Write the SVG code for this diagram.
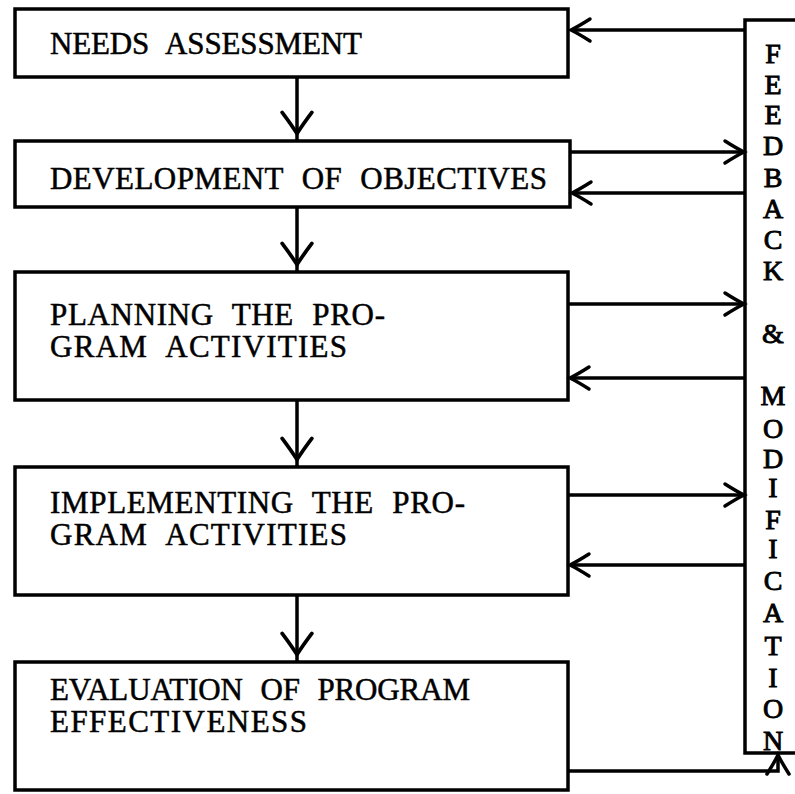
<svg xmlns="http://www.w3.org/2000/svg" width="795" height="794" viewBox="0 0 795 794">
  <style>
    .box { fill: none; stroke: #000; stroke-width: 3.5; stroke-linejoin: miter; }
    .lbl { font-family: "Liberation Serif", "DejaVu Serif", serif; font-size: 31px; word-spacing: 10px; fill: #000; stroke: #000; stroke-width: 0.5; }
    .side { font-family: "Liberation Serif", "DejaVu Serif", serif; font-size: 28px; fill: #000; stroke: #000; stroke-width: 0.9; text-anchor: middle; }
    .wire { fill: none; stroke: #000; stroke-width: 3.5; }
  </style>
  <defs>
    <!-- open V arrowhead, tip on the line end -->
    <marker id="arrow" markerUnits="userSpaceOnUse" markerWidth="30" markerHeight="30" viewBox="-22 -15 24 30" refX="0" refY="0" orient="auto">
      <path d="M -19 -11 Q -8 -4 0 0 Q -8 4 -19 11" fill="none" stroke="#000" stroke-width="3.5" stroke-linecap="round"/>
    </marker>
    <!-- open V arrowhead, tip a little short of the line end -->
    <marker id="arrow-v" markerUnits="userSpaceOnUse" markerWidth="34" markerHeight="34" viewBox="-28 -16 30 32" refX="0" refY="0" orient="auto">
      <path d="M -26 -14 Q -14 -5 -6 0 Q -14 5 -26 14" fill="none" stroke="#000" stroke-width="3.5" stroke-linecap="round"/>
    </marker>
  </defs>

  <!-- process steps -->
  <g id="needs-assessment">
    <rect class="box" x="15" y="9" width="553" height="68"/>
    <text class="lbl" x="50" y="54" textLength="312" lengthAdjust="spacing">NEEDS ASSESSMENT</text>
  </g>
  <g id="development-of-objectives">
    <rect class="box" x="15" y="141" width="555" height="66"/>
    <text class="lbl" x="50" y="189" textLength="497" lengthAdjust="spacing">DEVELOPMENT OF OBJECTIVES</text>
  </g>
  <g id="planning">
    <rect class="box" x="15" y="272" width="553" height="128"/>
    <text class="lbl" x="50" y="325" textLength="335" lengthAdjust="spacing">PLANNING THE PRO-</text>
    <text class="lbl" x="50" y="357" textLength="297" lengthAdjust="spacing">GRAM ACTIVITIES</text>
  </g>
  <g id="implementing">
    <rect class="box" x="15" y="467" width="553" height="128"/>
    <text class="lbl" x="50" y="513" textLength="415" lengthAdjust="spacing">IMPLEMENTING THE PRO-</text>
    <text class="lbl" x="50" y="545" textLength="297" lengthAdjust="spacing">GRAM ACTIVITIES</text>
  </g>
  <g id="evaluation">
    <rect class="box" x="15" y="662" width="553" height="128"/>
    <text class="lbl" x="50" y="700" textLength="420" lengthAdjust="spacing">EVALUATION OF PROGRAM</text>
    <text class="lbl" x="50" y="732" textLength="257" lengthAdjust="spacing">EFFECTIVENESS</text>
  </g>

  <!-- feedback and modification column -->
  <g id="feedback">
    <path class="box" d="M 797 20 H 745 V 753 H 797"/>
    <text class="side" x="773" y="63">F</text>
    <text class="side" x="773" y="94">E</text>
    <text class="side" x="773" y="124">E</text>
    <text class="side" x="773" y="155">D</text>
    <text class="side" x="773" y="187">B</text>
    <text class="side" x="773" y="218">A</text>
    <text class="side" x="773" y="249">C</text>
    <text class="side" x="773" y="280">K</text>
    <text class="side" x="773" y="343">&amp;</text>
    <text class="side" x="773" y="405">M</text>
    <text class="side" x="773" y="438">O</text>
    <text class="side" x="773" y="468">D</text>
    <text class="side" x="773" y="497">I</text>
    <text class="side" x="773" y="529">F</text>
    <text class="side" x="773" y="558">I</text>
    <text class="side" x="773" y="590">C</text>
    <text class="side" x="773" y="622">A</text>
    <text class="side" x="773" y="655">T</text>
    <text class="side" x="773" y="687">I</text>
    <text class="side" x="773" y="718">O</text>
    <text class="side" x="773" y="750">N</text>
  </g>

  <!-- connectors -->
  <g id="connectors">
    <!-- downward flow between steps -->
    <path class="wire" d="M 297 77 V 140" marker-end="url(#arrow-v)"/>
    <path class="wire" d="M 297 207 V 271" marker-end="url(#arrow-v)"/>
    <path class="wire" d="M 297 400 V 466" marker-end="url(#arrow-v)"/>
    <path class="wire" d="M 297 595 V 661" marker-end="url(#arrow-v)"/>

    <!-- feedback back into each step -->
    <path class="wire" d="M 745 30 H 571" marker-end="url(#arrow)"/>
    <path class="wire" d="M 570 152 H 744" marker-end="url(#arrow)"/>
    <path class="wire" d="M 745 193 H 572" marker-end="url(#arrow)"/>
    <path class="wire" d="M 568 304 H 744" marker-end="url(#arrow)"/>
    <path class="wire" d="M 745 378 H 570" marker-end="url(#arrow)"/>
    <path class="wire" d="M 568 495 H 744" marker-end="url(#arrow)"/>
    <path class="wire" d="M 745 565 H 570" marker-end="url(#arrow)"/>
    <path class="wire" d="M 568 771 H 778 V 755" marker-end="url(#arrow)"/>
  </g>
</svg>
